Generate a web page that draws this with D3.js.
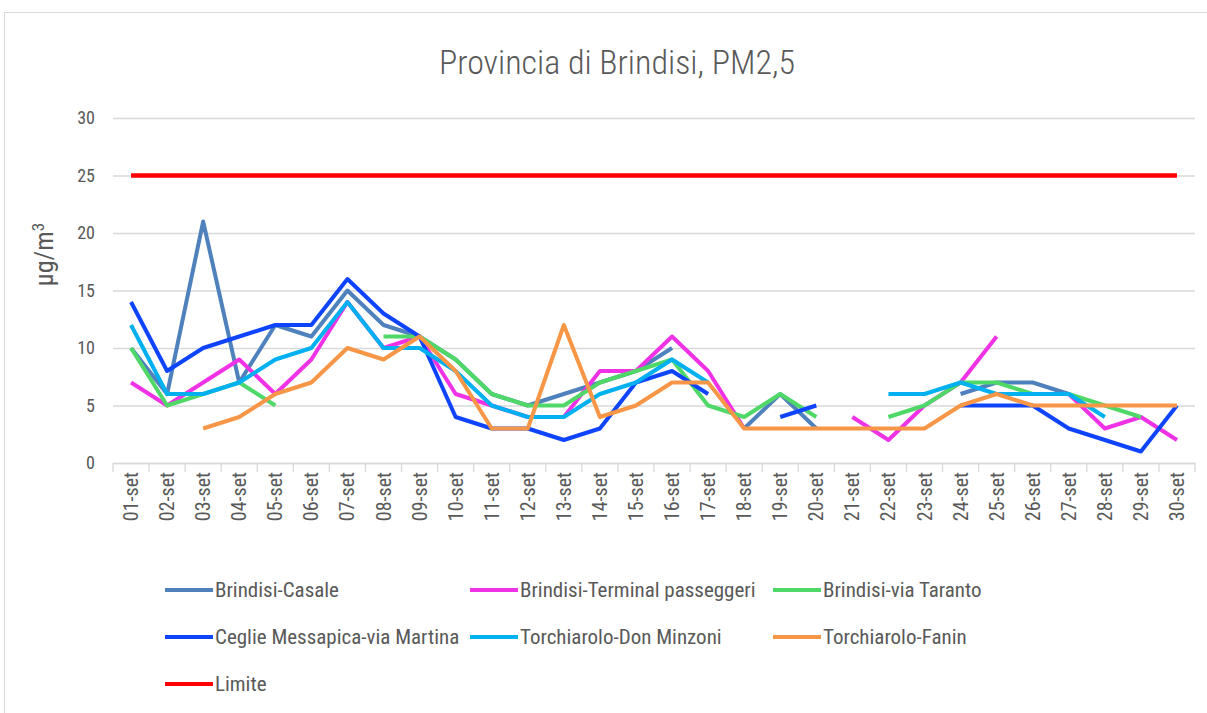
<!DOCTYPE html>
<html>
<head>
<meta charset="utf-8">
<script src="https://cdn.jsdelivr.net/npm/d3@7"></script>
<style>
body{margin:0;background:#fff;}
text{font-family:"Roboto Condensed",Roboto,sans-serif;fill:#595959;}
</style>
</head>
<body>
<svg id="chart"></svg>
<script>
var w=1207;
var h=713;
var margin={left:113,right:12,top:118,bottom:250};
var font="'Roboto Condensed',Roboto,sans-serif";

var days=["01-set","02-set","03-set","04-set","05-set","06-set","07-set","08-set","09-set","10-set",
          "11-set","12-set","13-set","14-set","15-set","16-set","17-set","18-set","19-set","20-set",
          "21-set","22-set","23-set","24-set","25-set","26-set","27-set","28-set","29-set","30-set"];
var yTicks=[0,5,10,15,20,25,30];

var casale=[10,6,21,7,12,11,15,12,11,9,6,5,6,7,8,10,null,3,6,3,null,null,null,6,7,7,6,null,null,null];
var terminal=[7,5,7,9,6,9,14,10,11,6,5,4,4,8,8,11,8,3,null,null,4,2,5,7,11,null,6,3,4,2];
var taranto=[10,5,6,7,5,null,null,11,11,9,6,5,5,7,8,9,5,4,6,4,null,4,5,7,7,6,6,5,4,null];
var ceglie=[14,8,10,11,12,12,16,13,11,4,3,3,2,3,7,8,6,null,4,5,null,null,null,5,5,5,3,2,1,5];
var minzoni=[12,6,6,7,9,10,14,10,10,8,5,4,4,6,7,9,7,null,null,null,null,6,6,7,6,6,6,4,null,null];
var fanin=[null,null,3,4,6,7,10,9,11,8,3,3,12,4,5,7,7,3,3,3,3,3,3,5,6,5,5,5,5,5];
var limite=[25,25,25,25,25,25,25,25,25,25,25,25,25,25,25,25,25,25,25,25,25,25,25,25,25,25,25,25,25,25];

var names=["Brindisi-Casale","Brindisi-Terminal passeggeri","Brindisi-via Taranto",
           "Ceglie Messapica-via Martina","Torchiarolo-Don Minzoni","Torchiarolo-Fanin","Limite"];
var colors=["#4f81bd","#f032e6","#4fd868","#0f44ff","#00b0f0","#f79646","#ff0000"];
var values=[casale,terminal,taranto,ceglie,minzoni,fanin,limite];

var svg=d3.select("#chart").attr("width",w).attr("height",h);

svg.append("rect")
   .attr("x",4.5).attr("y",12.5)
   .attr("width",1220).attr("height",720)
   .attr("fill","#fff").attr("stroke","#d9d9d9");

var xScale=d3.scaleBand()
             .domain(days)
             .range([margin.left,w-margin.right]);
var yScale=d3.scaleLinear()
             .domain([0,30])
             .range([h-margin.bottom,margin.top]);

// gridlines + y labels
var yAxis=d3.axisLeft(yScale).tickValues(yTicks).tickSize(-(w-margin.right-margin.left)).tickPadding(18);
var gy=svg.append("g")
   .attr("transform","translate("+margin.left+",0)")
   .call(yAxis);
gy.select(".domain").remove();
gy.selectAll("line").attr("stroke","#d9d9d9").attr("stroke-width",1.3);
gy.selectAll("text").style("font-size","18px").style("fill","#595959")
  .style("font-family",font);

// x axis
var gx=svg.append("g")
   .attr("transform","translate(0,"+yScale(0)+")")
   .call(d3.axisBottom(xScale).tickSize(0).tickPadding(0));
gx.select(".domain").attr("stroke","#d9d9d9").attr("stroke-width",1.3);
gx.selectAll("text")
  .attr("transform","rotate(-90)")
  .attr("x",-9).attr("y",0).attr("dy","0.35em")
  .style("text-anchor","end")
  .style("font-size","20px").style("fill","#595959")
  .style("font-family",font);
var bounds=days.map(function(d){return xScale(d);}).concat([xScale.range()[1]]);
svg.append("g").selectAll("line")
   .data(bounds).enter().append("line")
   .attr("x1",function(d){return d;}).attr("x2",function(d){return d;})
   .attr("y1",yScale(0)).attr("y2",yScale(0)+9)
   .attr("stroke","#d9d9d9").attr("stroke-width",1.3);

// title
svg.append("text")
   .attr("x",617).attr("y",74)
   .attr("text-anchor","middle")
   .style("font-size","34px")
   .style("font-weight","300")
   .text("Provincia di Brindisi, PM2,5");

// y title
var yt=svg.append("text")
   .attr("transform","translate(53,"+(yScale(15)-36)+") rotate(-90)")
   .attr("text-anchor","middle")
   .style("font-size","26px");
yt.append("tspan").text("µg/m");
yt.append("tspan").attr("dy","-9").style("font-size","17px").text("3");

// lines
var line=d3.line()
           .defined(function(d){return d!=null;})
           .x(function(d,i){return xScale(days[i])+xScale.bandwidth()/2;})
           .y(function(d){return yScale(d);});
values.forEach(function(v,k){
  svg.append("path")
     .datum(v)
     .attr("fill","none")
     .attr("stroke",colors[k])
     .attr("stroke-width",k==6?4.5:4)
     .attr("stroke-linejoin","round")
     .attr("d",line);
});

// legend
var colX=[165,470,773];
var rowY=[590,637,684];
var leg=svg.append("g").selectAll("g")
   .data(names).enter().append("g")
   .attr("transform",function(d,i){return "translate("+colX[i%3]+","+rowY[Math.floor(i/3)]+")";});
leg.append("line")
   .attr("x1",0).attr("x2",48).attr("y1",0).attr("y2",0)
   .attr("stroke",function(d,i){return colors[i];})
   .attr("stroke-width",4);
leg.append("text")
   .attr("x",50).attr("y",0).attr("dy","0.35em")
   .style("font-size","21px")
   .text(function(d){return d;});
</script>
</body>
</html>
